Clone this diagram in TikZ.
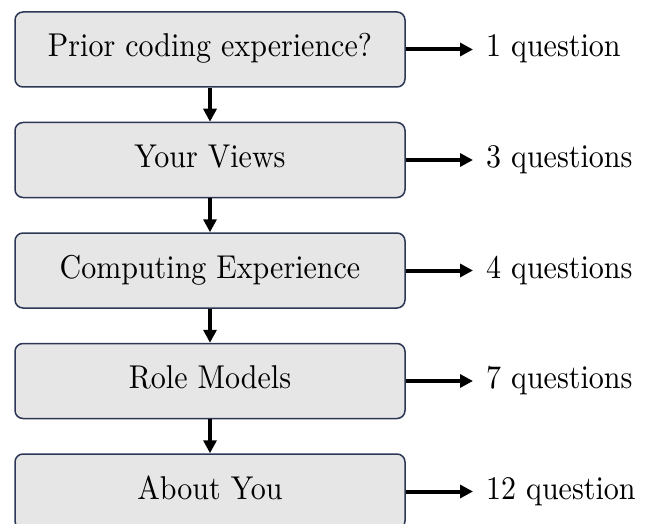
\documentclass[tikz,border=0pt]{standalone}
\usepackage{graphicx}
\usepackage{fontspec}
\newfontfamily\tenrm{lmroman10-regular}[Extension=.otf]
\usetikzlibrary{arrows.meta}
\definecolor{boxborder}{RGB}{45,55,85}
\definecolor{boxfill}{RGB}{230,230,230}
\newcommand\vstr[1]{\scalebox{1}[1.1]{#1}}
\begin{document}
\begin{tikzpicture}[x=1pt,y=-1pt,
  stagebox/.style={draw=boxborder, fill=boxfill, line width=1.5pt, rounded corners=8pt,
    minimum width=390pt, minimum height=75pt, inner sep=0pt,
    font=\tenrm\fontsize{30}{36}\selectfont, text height=23pt, text depth=8pt},
  countlbl/.style={anchor=west, inner xsep=13pt, inner ysep=0pt,
    font=\tenrm\fontsize{30}{36}\selectfont, text height=23pt, text depth=8pt},
  flow/.style={line width=4pt, -{Triangle[length=13pt,width=13pt]}}]
\useasboundingbox (0,0) rectangle (648,524);
\begin{scope}
\clip (0,0) rectangle (648,524);
\node[stagebox] (b1) at (210,49.5) {\vstr{Prior coding experience?}};
\node[stagebox] (b2) at (210,160) {\vstr{Your Views}};
\node[stagebox] (b3) at (210,270.5) {\vstr{Computing Experience}};
\node[stagebox] (b4) at (210,381) {\vstr{Role Models}};
\node[stagebox] (b5) at (210,491.5) {\vstr{About You}};
\node[countlbl] (q1) at (473,49.5) {\vstr{1 question}};
\node[countlbl] (q2) at (473,160) {\vstr{3 questions}};
\node[countlbl] (q3) at (473,270.5) {\vstr{4 questions}};
\node[countlbl] (q4) at (473,381) {\vstr{7 questions}};
\node[countlbl] (q5) at (473,491.5) {\vstr{12 question}};
\draw[flow] (b1.south) -- (b2.north);
\draw[flow] (b2.south) -- (b3.north);
\draw[flow] (b3.south) -- (b4.north);
\draw[flow] (b4.south) -- (b5.north);
\draw[flow] (b1.east) -- (q1.west);
\draw[flow] (b2.east) -- (q2.west);
\draw[flow] (b3.east) -- (q3.west);
\draw[flow] (b4.east) -- (q4.west);
\draw[flow] (b5.east) -- (q5.west);
\end{scope}
\end{tikzpicture}
\end{document}
